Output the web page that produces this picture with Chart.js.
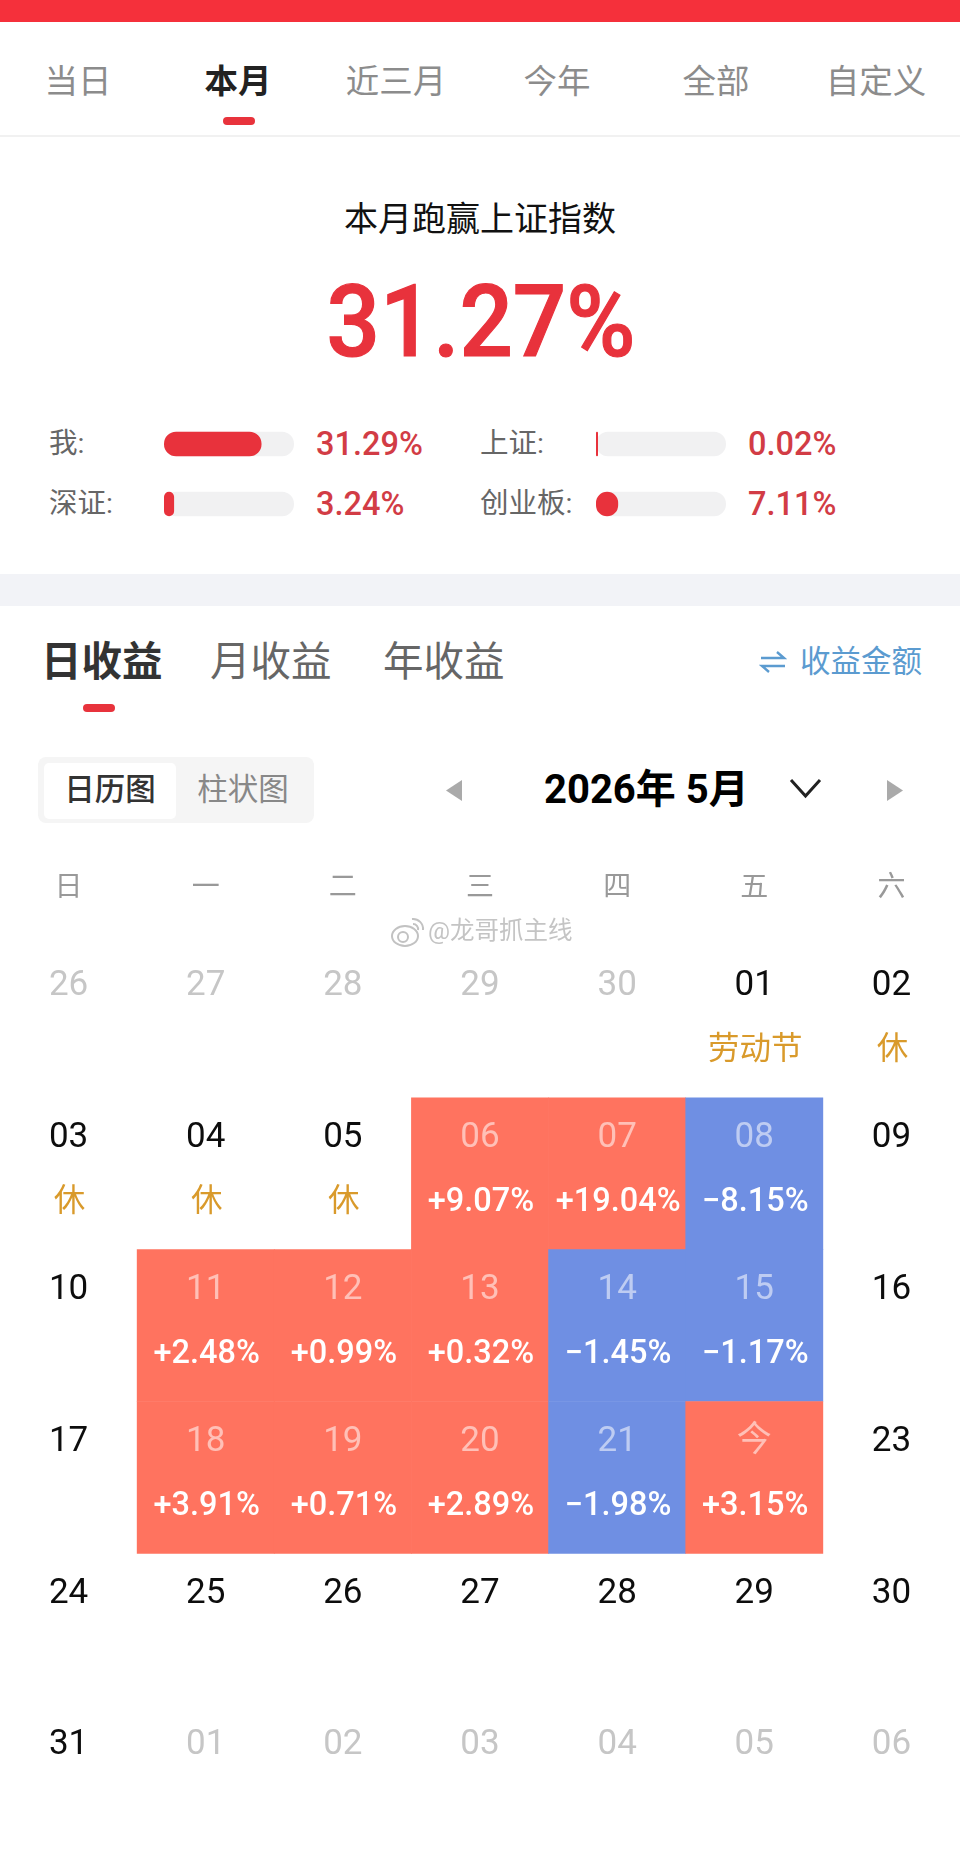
<!DOCTYPE html>
<html lang="zh">
<head>
<meta charset="utf-8">
<title>本月跑赢上证指数</title>
<script src="https://cdn.jsdelivr.net/npm/chart.js@4"></script>
<style>
html, body { margin: 0; padding: 0; background: #fff; }
body { position: relative; width: 960px; height: 1857px; overflow: hidden; font-family: Roboto, "Noto Sans CJK SC", sans-serif; }
.t { position: absolute; line-height: 1; white-space: nowrap; transform: translate(-50%, -50%); }
.l { position: absolute; line-height: 1; white-space: nowrap; transform: translateY(-50%); }
.box { position: absolute; }
canvas { position: absolute; display: block; }
.tab { top: 82px; font-size: 33.5px; color: #8c8c8c; }
.stat-name { font-size: 28.5px; color: #666; }
.stat-val { font-size: 32.5px; font-weight: 500; color: #d23c45; }
.sub { top: 662px; font-size: 40.5px; color: #666; }
</style>
</head>
<body>
<div class="box" style="left:0;top:0;width:960px;height:22px;background:#f5303b"></div>
<div class="t tab" style="left:78px">当日</div>
<div class="t tab" style="left:238px;color:#222;font-weight:700">本月</div>
<div class="t tab" style="left:396px">近三月</div>
<div class="t tab" style="left:557px">今年</div>
<div class="t tab" style="left:716px">全部</div>
<div class="t tab" style="left:876px">自定义</div>
<div class="box" style="left:223px;top:117px;width:32px;height:8px;border-radius:4px;background:#e8333c"></div>
<div class="box" style="left:0;top:135px;width:960px;height:2px;background:#f1f1f1"></div>

<div class="t" style="left:480px;top:219px;font-size:34px;color:#111">本月跑赢上证指数</div>
<div class="t" style="left:481px;top:321.5px;font-size:100px;font-weight:500;color:#e8323c;-webkit-text-stroke:1.2px #e8323c;transform:translate(-50%,-50%) scaleX(.94)">31.27%</div>

<div class="l stat-name" style="left:49px;top:444px">我:</div>
<canvas id="bar_me" style="left:164px;top:431px"></canvas>
<div class="l stat-val" style="left:316px;top:444px">31.29%</div>
<div class="l stat-name" style="left:480px;top:444px">上证:</div>
<canvas id="bar_sh" style="left:596px;top:431px"></canvas>
<div class="l stat-val" style="left:748px;top:444px">0.02%</div>
<div class="l stat-name" style="left:49px;top:504px">深证:</div>
<canvas id="bar_sz" style="left:164px;top:491px"></canvas>
<div class="l stat-val" style="left:316px;top:504px">3.24%</div>
<div class="l stat-name" style="left:480px;top:504px">创业板:</div>
<canvas id="bar_cy" style="left:596px;top:491px"></canvas>
<div class="l stat-val" style="left:748px;top:504px">7.11%</div>

<div class="box" style="left:0;top:574px;width:960px;height:32px;background:#f2f3f7"></div>

<div class="l sub" style="left:41px;color:#333;font-weight:700">日收益</div>
<div class="l sub" style="left:210px">月收益</div>
<div class="l sub" style="left:383px">年收益</div>
<div class="box" style="left:83px;top:704px;width:32px;height:8px;border-radius:4px;background:#e8333c"></div>
<svg class="box" style="left:759px;top:650px" width="28" height="24" viewBox="0 0 28 24" fill="none" stroke="#5b9bd0" stroke-width="2.4">
  <path d="M2 8 H25 L18 2"/><path d="M26 16 H3 L10 22"/>
</svg>
<div class="l" style="left:800px;top:662px;font-size:30.5px;color:#5b9bd0">收益金额</div>

<div class="box" style="left:38px;top:757px;width:276px;height:66px;border-radius:8px;background:#f5f5f5"></div>
<div class="box" style="left:44px;top:763px;width:132px;height:56px;border-radius:5px;background:#fff"></div>
<div class="t" style="left:110px;top:790px;font-size:30.5px;font-weight:500;color:#333">日历图</div>
<div class="t" style="left:243px;top:790px;font-size:30.5px;color:#888">柱状图</div>
<svg class="box" style="left:440px;top:770px" width="470" height="40" viewBox="440 770 470 40">
  <path d="M462 780 V801 L446 790.5 Z" fill="#aaa"/>
  <path d="M887 780 V801 L903 790.5 Z" fill="#aaa"/>
  <path d="M791 780 L805.5 796 L820 780" fill="none" stroke="#222" stroke-width="3"/>
</svg>
<div class="l" style="left:544px;top:790px;font-size:40px;font-weight:700;color:#000">2026年 5月</div>

<canvas id="calendar" style="left:0;top:860px"></canvas>

<svg class="box" style="left:390px;top:915px" width="36" height="34" viewBox="0 0 36 34" fill="none" stroke="#c2c2c2" stroke-width="2">
  <ellipse cx="15" cy="21" rx="13" ry="10"/><circle cx="13" cy="22" r="5"/>
  <path d="M22 4 A10 10 0 0 1 33 15"/><path d="M23 9 A5 5 0 0 1 28 15"/>
</svg>
<div class="l" style="left:428px;top:931px;font-size:24.5px;color:#c4c4c4;text-shadow:0 0 2px #fff,1px 1px 1px #fff">@龙哥抓主线</div>

<script>
'use strict';
var year = 2026;
var month = 5;
var weekdays = ['日', '一', '二', '三', '四', '五', '六'];

var tradingDates = [6, 7, 8, 11, 12, 13, 14, 15, 18, 19, 20, 21, 22];
var dailyReturns = [9.07, 19.04, -8.15, 2.48, 0.99, 0.32, -1.45, -1.17, 3.91, 0.71, 2.89, -1.98, 3.15];
var todayDate = 22;
var holidayDates = [1, 2, 3, 4, 5];
var holidayLabels = ['劳动节', '休', '休', '休', '休'];

var compareNames = ['我', '上证', '深证', '创业板'];
var compareValues = [31.29, 0.02, 3.24, 7.11];
var compareCanvases = ['bar_me', 'bar_sh', 'bar_sz', 'bar_cy'];
var compareMax = 41.7;

var UP_COLOR = '#ff735f';
var DOWN_COLOR = '#6f8fe3';
var FONT = 'Roboto, "Noto Sans CJK SC", sans-serif';

//small progress bars next to the index names
function drawCompareBar(canvasId, name, value) {
  var el = document.getElementById(canvasId);
  el.width = 130;
  el.height = 26;
  new Chart(el, {
    type: 'bar',
    data: {
      labels: [name],
      datasets: [
        { data: [value], backgroundColor: '#e8323c', borderRadius: 12, borderSkipped: false, minBarLength: 2, order: 1 },
        { data: [compareMax], backgroundColor: '#f1f1f2', borderRadius: 12, borderSkipped: false, order: 2 }
      ]
    },
    options: {
      indexAxis: 'y',
      responsive: false,
      animation: false,
      layout: { padding: 0 },
      plugins: { legend: { display: false }, tooltip: { enabled: false } },
      scales: {
        x: { display: false, min: 0, max: compareMax, grace: 0 },
        y: { display: false, stacked: true, grid: { display: false } }
      },
      datasets: { bar: { barPercentage: 1, categoryPercentage: 0.94 } }
    }
  });
}

for (var i = 0; i < compareNames.length; i++) {
  drawCompareBar(compareCanvases[i], compareNames[i], compareValues[i]);
}

//where a day of the month falls in the 6 row calendar
function cellOf(day) {
  var first = new Date(year, month - 1, 1).getDay();
  var idx = first + day - 1;
  return { col: idx % 7, row: Math.floor(idx / 7) };
}

function pad(n) {
  return n < 10 ? '0' + n : '' + n;
}

function formatReturn(v) {
  return (v >= 0 ? '+' : '\u2212') + Math.abs(v).toFixed(2) + '%';
}

var cellData = tradingDates.map(function (d) {
  var c = cellOf(d);
  return { x: weekdays[c.col], y: [c.row, c.row + 1] };
});

//day numbers and second line of text go on top of the bars
var cellText = {
  id: 'cellText',
  afterDatasetsDraw: function (chart) {
    var ctx = chart.ctx;
    var xs = chart.scales.x;
    var ys = chart.scales.y;
    var first = new Date(year, month - 1, 1).getDay();
    ctx.save();
    ctx.textAlign = 'center';
    ctx.textBaseline = 'middle';
    for (var k = 0; k < 42; k++) {
      var date = new Date(year, month - 1, 1 - first + k);
      var col = k % 7;
      var row = Math.floor(k / 7);
      var inMonth = date.getMonth() === month - 1;
      var day = date.getDate();
      var pos = inMonth ? tradingDates.indexOf(day) : -1;
      var px = xs.getPixelForValue(col);
      ctx.font = '35px ' + FONT;
      ctx.fillStyle = !inMonth ? '#c6c6c6' : pos >= 0 ? 'rgba(255,255,255,.55)' : '#0d0d0d';
      ctx.fillText(inMonth && day === todayDate ? '今' : pad(day), px, ys.getPixelForValue(row + 0.267));
      if (pos >= 0) {
        ctx.font = '500 32.5px ' + FONT;
        ctx.fillStyle = '#fff';
        ctx.fillText(formatReturn(dailyReturns[pos]), px + 1, ys.getPixelForValue(row + 0.692));
      }
      var hol = inMonth ? holidayDates.indexOf(day) : -1;
      if (hol >= 0) {
        ctx.font = '31.5px ' + FONT;
        ctx.fillStyle = '#d99a2b';
        ctx.fillText(holidayLabels[hol], px + 1, ys.getPixelForValue(row + 0.692));
      }
    }
    ctx.restore();
  }
};

var calendarEl = document.getElementById('calendar');
calendarEl.width = 960;
calendarEl.height = 997;
new Chart(calendarEl, {
  type: 'bar',
  data: {
    labels: weekdays,
    datasets: [{
      data: cellData,
      backgroundColor: dailyReturns.map(function (v) { return v >= 0 ? UP_COLOR : DOWN_COLOR; }),
      borderWidth: 0,
      barPercentage: 1,
      categoryPercentage: 1
    }]
  },
  options: {
    responsive: false,
    animation: false,
    layout: { padding: 0 },
    plugins: { legend: { display: false }, tooltip: { enabled: false } },
    scales: {
      x: {
        position: 'top',
        grid: { display: false, drawTicks: false },
        border: { display: false },
        ticks: { color: '#999', font: { size: 28, family: FONT }, padding: 40, maxRotation: 0, autoSkip: false },
        afterFit: function (scale) { scale.height = 86; }
      },
      y: { display: false, reverse: true, min: 0, max: 6 }
    }
  },
  plugins: [cellText]
});
</script>
</body>
</html>
